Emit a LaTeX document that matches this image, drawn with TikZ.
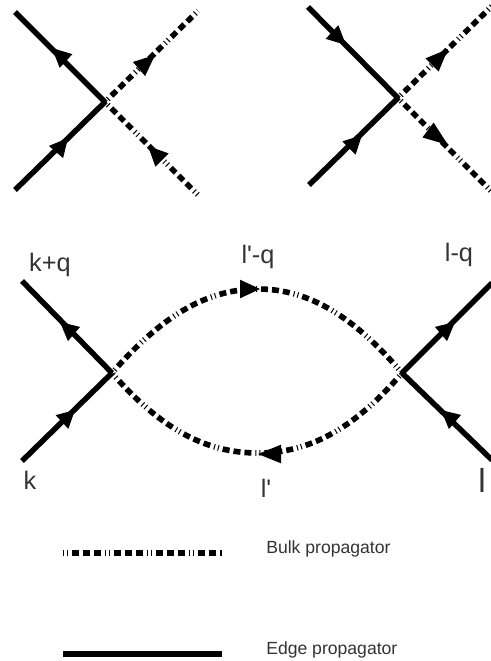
\documentclass[tikz,border=0pt]{standalone}
\usepackage{fontspec}
\setmainfont{Liberation Sans}
\usetikzlibrary{calc}
\definecolor{txt}{HTML}{333333}
\tikzset{
  edgeprop/.style={line width=4.1pt,line cap=butt},
  bulkprop/.style={line width=4.2pt,dash pattern=on 0.75pt off 2.25pt on 0.75pt off 3pt on 5.25pt off 3pt on 5.25pt off 3pt on 5.25pt off 3pt},
  biglabel/.style={font=\fontsize{19pt}{21pt}\selectfont,text=txt,inner sep=0pt},
  leglabel/.style={font=\fontsize{13.2pt}{15pt}\selectfont,text=txt,inner sep=0pt,anchor=west}
}
% base, apex
\newcommand{\headat}[2]{\fill ($(#1)!7pt!90:(#2)$) -- (#2) -- ($(#1)!7pt!-90:(#2)$) -- cycle;}
\begin{document}
\begin{tikzpicture}[x=0.75pt,y=-0.75pt]
\useasboundingbox (0,0) rectangle (490,661);
% top left
\coordinate (v1) at (105,102);
\coordinate (a1) at (15,12);
\coordinate (b1) at (15,190);
\coordinate (c1) at (198,11);
\coordinate (d1) at (198,195);
\draw[edgeprop] (v1) -- (a1);
\draw[edgeprop] (b1) -- (v1);
\draw[bulkprop] (v1) -- (c1);
\draw[bulkprop] (v1) -- (d1);
\headat{66,61}{52,48}
\headat{56,152}{68,138}
\headat{139,69}{155,55}
\headat{162,160}{148,146}
% top right
\coordinate (v2) at (398,98);
\coordinate (a2) at (308,7);
\coordinate (b2) at (309,185);
\coordinate (c2) at (492,6);
\coordinate (d2) at (492,192);
\draw[edgeprop] (a2) -- (v2);
\draw[edgeprop] (b2) -- (v2);
\draw[bulkprop] (v2) -- (c2);
\draw[bulkprop] (v2) -- (d2);
\headat{332,32}{346,45}
\headat{349,148}{362,135}
\headat{432,65}{448,49}
\headat{428,130}{448,145}
% loop
\coordinate (v3) at (112,373);
\coordinate (v4) at (402,373);
\coordinate (a3) at (22,281);
\coordinate (b3) at (22,461);
\coordinate (c3) at (492,283);
\coordinate (d3) at (492,460);
\coordinate (t) at (258,289);
\coordinate (u) at (258,453);
\draw[edgeprop] (v3) -- (a3);
\draw[edgeprop] (b3) -- (v3);
\draw[edgeprop] (v4) -- (c3);
\draw[edgeprop] (d3) -- (v4);
\draw[bulkprop] (v3) .. controls (160,318) and (205,289) .. (t) .. controls (310,289) and (355,318) .. (v4);
\draw[bulkprop] (v4) .. controls (355,428) and (310,453) .. (u) .. controls (205,453) and (160,428) .. (v3);
\headat{74,334}{60,322}
\headat{62,422}{75,410}
\headat{240,289}{260,289}
\headat{281,454}{258,454}
\headat{441,334}{455,322}
\headat{455,422}{441,410}
\node[biglabel] (l1) at (50,265) {k+q};
\node[biglabel] (l2) at (258,257) {l\textquotesingle-q};
\node[biglabel] (l3) at (459,255) {l-q};
\node[biglabel] (l4) at (30,480) {k};
\node[biglabel] (l5) at (266,488) {l\textquotesingle};
\node[biglabel,font=\fontsize{25pt}{27pt}\selectfont] (l6) at (482,480) {l};
% legend
\coordinate (p1) at (63,553);
\coordinate (p2) at (222,553);
\coordinate (q1) at (63,654);
\coordinate (q2) at (222,654);
\draw[bulkprop] (p1) -- (p2);
\draw[edgeprop] (q1) -- (q2);
\node[leglabel] (l7) at (266,549) {Bulk propagator};
\node[leglabel] (l8) at (266,650) {Edge propagator};
\end{tikzpicture}
\end{document}
